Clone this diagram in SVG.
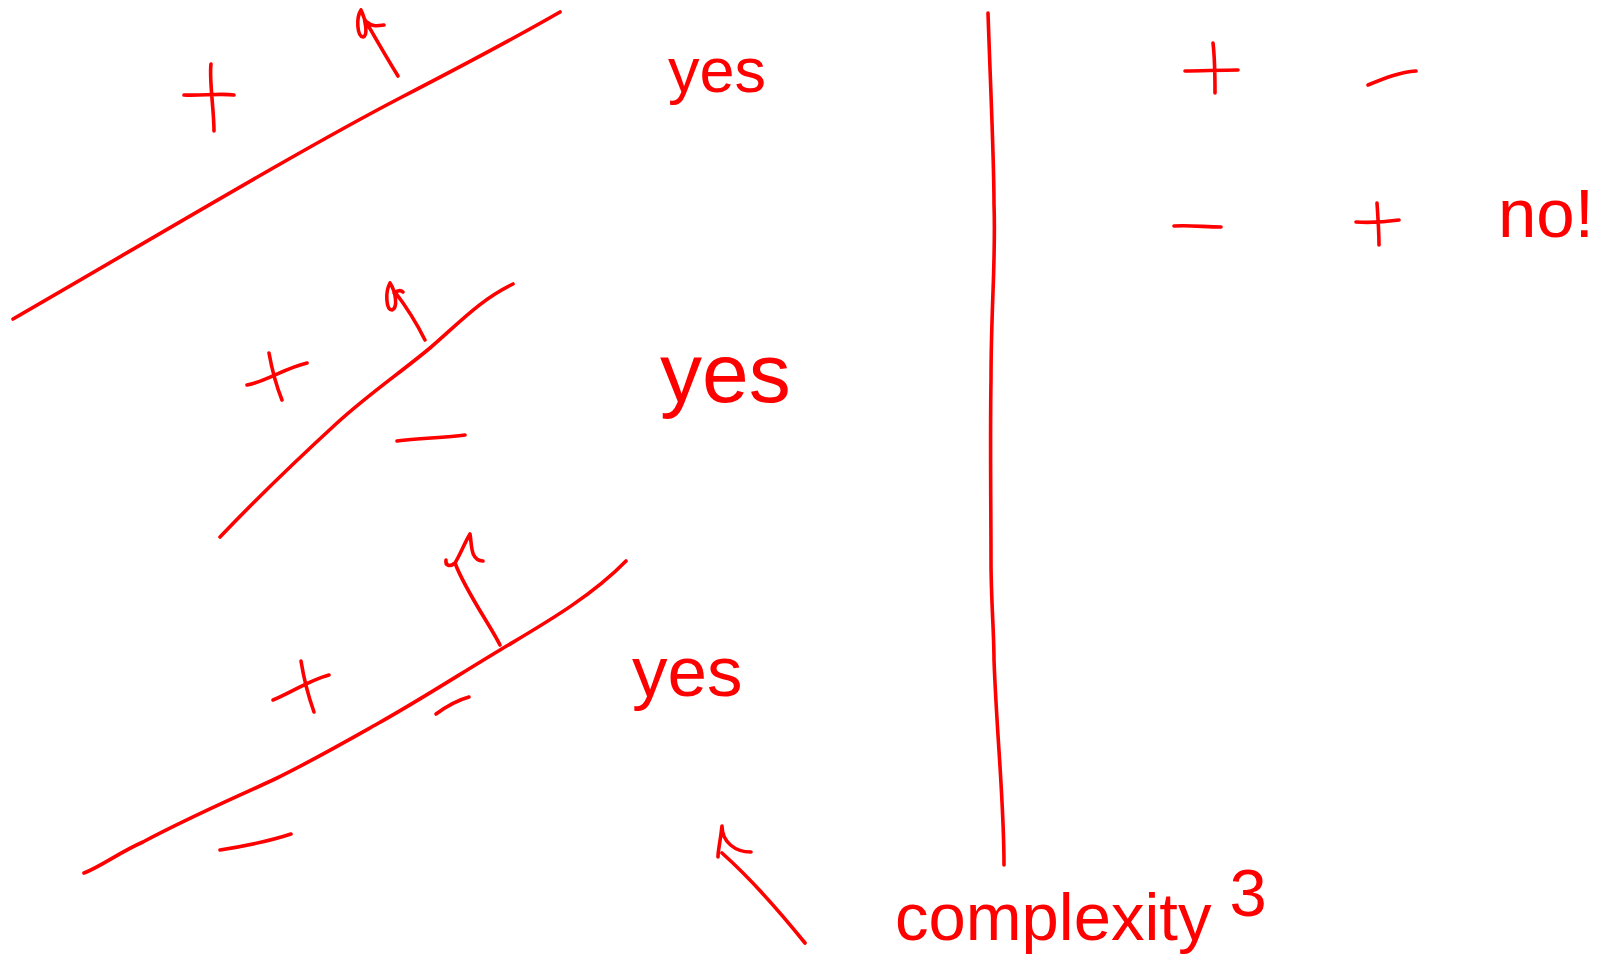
<svg xmlns="http://www.w3.org/2000/svg" width="1599" height="968" viewBox="0 0 1599 968">
<style>
.s{fill:none;stroke:#ff0000;stroke-width:3.6;stroke-linecap:round;stroke-linejoin:round}
.t{fill:#ff0000;font-family:"Liberation Sans","DejaVu Sans",sans-serif}
</style>
<rect width="1599" height="968" fill="#ffffff"/>
<g id="boundary1">
<path class="s" d="M13,319 C150,240 300,150 400,98 C460,67 520,35 560,12"/>
<path class="s" d="M211,64 C209,80 214,110 214,131 M184,95 C200,96 220,93 234,95"/>
<path class="s" d="M398,76 C385,55 372,32 365,20 M361,10 C356,18 357,36 363,37 C368,36 366,20 361,10 M367,22 C372,27 378,26 384,25"/>
<text class="t" x="668" y="92" font-size="63">yes</text>
</g>
<g id="boundary2">
<path class="s" d="M220,537 C260,495 300,457 337,423 C370,393 400,373 430,348 C460,322 480,300 513,284"/>
<path class="s" d="M269,353 C272,370 276,385 282,400 M247,385 C265,382 285,368 307,363"/>
<path class="s" d="M425,340 C415,320 405,305 395,292 M390,283 C385,292 386,310 392,310 C398,308 396,292 390,283 M394,293 C398,290 401,290 403,292"/>
<path class="s" d="M397,441 C420,438 445,438 465,435"/>
<text class="t" x="660" y="402" font-size="84">yes</text>
</g>
<g id="boundary3">
<path class="s" d="M84,873 C100,867 120,852 143,842 C190,817 230,800 275,779 C310,762 345,742 377,724 C420,700 460,674 500,650 C540,626 590,598 626,561"/>
<path class="s" d="M301,661 C304,680 309,698 314,712 M273,700 C290,693 310,680 329,675"/>
<path class="s" d="M500,645 C490,625 465,590 455,563 M446,560 C445,566 450,567 455,563 M455,563 C460,555 465,542 470,534 C472,545 470,560 483,561"/>
<path class="s" d="M436,714 C447,706 458,700 469,697"/>
<path class="s" d="M220,850 C245,846 270,841 291,834"/>
<text class="t" x="632" y="696" font-size="71">yes</text>
</g>
<g id="arrow">
<path class="s" d="M805,943 C780,912 750,878 722,853 M718,857 C718,850 720,844 722,826 C722,842 735,852 751,852"/>
</g>
<g id="divider">
<path class="s" d="M988,13 C991,100 994,160 994,204 C996,260 991,306 991,380 C990,440 991,510 991,560 C991,600 994,632 994,660 C997,740 1004,800 1004,865"/>
</g>
<g id="right">
<path class="s" d="M1185,71 C1200,71 1220,70 1238,70 M1213,43 C1215,60 1215,80 1215,93"/>
<path class="s" d="M1368,85 C1385,78 1400,72 1416,71"/>
<path class="s" d="M1174,226 C1190,225 1205,227 1221,227"/>
<path class="s" d="M1356,222 C1370,223 1385,222 1399,220 M1377,203 C1378,218 1379,232 1379,245"/>
<text class="t" x="1498" y="237" font-size="69">no!</text>
</g>
<g id="label">
<text class="t" x="895" y="940" font-size="67">complexity<tspan dx="18" dy="-24">3</tspan></text>
</g>
</svg>
